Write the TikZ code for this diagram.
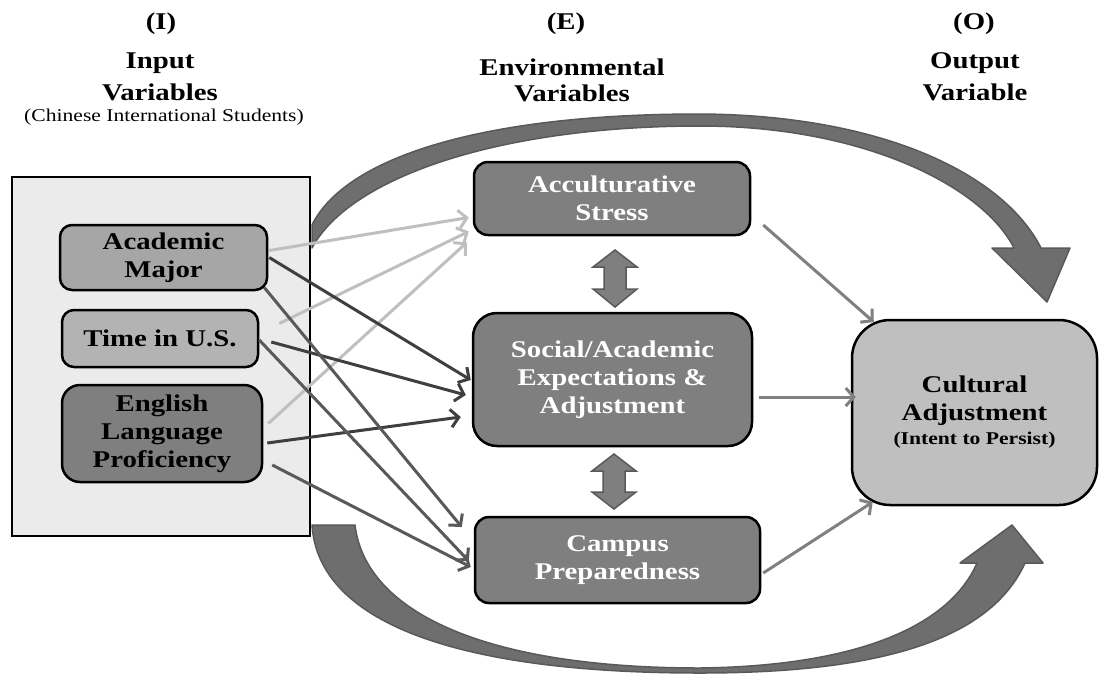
\documentclass[tikz,border=0pt]{standalone}
\usepackage{fontspec}
\setmainfont{Liberation Serif}[FakeStretch=1.2]
\usetikzlibrary{arrows.meta,calc}
\definecolor{panelgray}{HTML}{EBEBEB}
\definecolor{boxmid}{HTML}{A6A6A6}
\definecolor{boxtime}{HTML}{B3B3B3}
\definecolor{boxdark}{HTML}{7F7F7F}
\definecolor{boxlight}{HTML}{BFBFBF}
\definecolor{arrlight}{HTML}{BFBFBF}
\definecolor{arrdark}{HTML}{3F3F3F}
\definecolor{arrmed}{HTML}{595959}
\definecolor{arrright}{HTML}{808080}
\definecolor{bandfill}{HTML}{6E6E6E}
\definecolor{bandedge}{HTML}{595959}
\tikzset{
  hdr/.style={font=\fontsize{24}{30}\selectfont\bfseries, align=center, inner sep=0pt},
  sub/.style={font=\fontsize{18}{22}\selectfont, align=center, inner sep=0pt},
  inbox/.style={draw=black, line width=2.5pt, rounded corners=12pt, inner sep=0pt, align=center,
    font=\fontsize{24}{28}\selectfont\bfseries},
  envbox/.style={draw=black, line width=2.5pt, rounded corners=18pt, inner sep=0pt, align=center,
    fill=boxdark, text=white, font=\fontsize{24}{28}\selectfont\bfseries},
  conn/.style={line width=3pt, -{Straight Barb[length=8pt,width=18pt]}},
  band/.style={fill=bandfill, draw=bandedge, line width=1.5pt, line join=round},
  dbl/.style={fill=boxdark, draw=bandedge, line width=1.5pt, line join=miter}
}
\begin{document}
\begin{tikzpicture}[x=1pt,y=-1pt]
\useasboundingbox (0,0) rectangle (1099,675);

% headers
\node[hdr] (hI) at (161,24) {(I)};
\node[hdr, font=\fontsize{24}{32}\selectfont\bfseries] (hIn) at (160,77) {Input\\Variables};
\node[sub] (hCh) at (164,117) {(Chinese International Students)};
\node[hdr] (hE) at (566,24) {(E)};
\node[hdr, font=\fontsize{24}{26}\selectfont\bfseries] (hEn) at (572,80) {Environmental\\Variables};
\node[hdr] (hO) at (974,24) {(O)};
\node[hdr, font=\fontsize{24}{32}\selectfont\bfseries] (hOut) at (975,77) {Output\\Variable};

% big curved arrows
\path[band] (312,225) .. controls (345,158) and (480,114) .. (700,114)
  .. controls (880,115) and (1003,173) .. (1041,248) -- (1070,248) -- (1047,302) -- (992,248) -- (1014,248)
  .. controls (983,187) and (865,126) .. (700,126)
  .. controls (500,126) and (350,177) .. (312,248) -- cycle;
\path[band] (312,525) -- (355,525) .. controls (365,610) and (480,668) .. (700,668)
  .. controls (860,666) and (950,625) .. (977,563) -- (960,563) -- (1012,525) -- (1043,563) -- (1025,563)
  .. controls (990,640) and (880,673) .. (700,673)
  .. controls (450,673) and (318,620) .. (312,525) -- cycle;

% left panel
\node[draw=black, line width=2.5pt, fill=panelgray, minimum width=298pt, minimum height=359pt, inner sep=0pt] (panel) at (161,356.5) {};

% input boxes
\node[inbox, fill=boxmid, minimum width=207pt, minimum height=65pt] (am) at (163.5,257.5) {Academic\\Major};
\node[inbox, fill=boxtime, minimum width=196pt, minimum height=57pt] (tus) at (160,338.5) {Time in U.S.};
\node[inbox, fill=boxdark, minimum width=200pt, minimum height=97pt, rounded corners=18pt] (elp) at (162,433.5) {English\\Language\\Proficiency};

% environmental boxes
\node[envbox, minimum width=276pt, minimum height=73pt, rounded corners=14pt] (as) at (612,198.5) {Acculturative\\Stress};
\node[envbox, minimum width=279pt, minimum height=133pt, rounded corners=24pt] (sa) at (612.5,379.5) {Social/Academic\\Expectations \&\\Adjustment};
\node[envbox, minimum width=285pt, minimum height=86pt, rounded corners=14pt] (cp) at (617.5,560) {Campus\\Preparedness};

% output box
\node[draw=black, line width=2.5pt, fill=boxlight, rounded corners=38pt, minimum width=245pt, minimum height=185pt, inner sep=0pt, align=center,
  font=\fontsize{24}{28}\selectfont\bfseries] (ca) at (974.5,412.5)
  {Cultural\\Adjustment\\[-4pt]\fontsize{18}{22}\selectfont (Intent to Persist)};

% double block arrows
\path[dbl] (615,250) -- (637,267) -- (626,267) -- (626,289) -- (637,289) -- (615,307) -- (593,289) -- (604,289) -- (604,267) -- (593,267) -- cycle;
\path[dbl] (614,454) -- (636,471) -- (625,471) -- (625,492) -- (636,492) -- (614,509) -- (592,492) -- (603,492) -- (603,471) -- (592,471) -- cycle;

% light arrows to Acculturative Stress
\draw[conn, arrlight] ([xshift=1pt,yshift=7pt]am.east) -- ([xshift=-4pt,yshift=-19pt]as.west);
\draw[conn, arrlight] ([xshift=20pt,yshift=15pt]tus.east) -- ([xshift=-4pt,yshift=-33pt]as.west);
\draw[conn, arrlight] ([xshift=5pt,yshift=10pt]elp.east) -- ([xshift=-6pt,yshift=-44pt]as.west);

% dark arrows to Social/Academic
\draw[conn, arrdark] ([xshift=1pt,yshift=0pt]am.east) -- ([xshift=-1pt,yshift=-0.5pt]sa.west);
\draw[conn, arrdark] ([xshift=12pt,yshift=-3.5pt]tus.east) -- ([xshift=-6pt,yshift=-15.5pt]sa.west);
\draw[conn, arrdark] ([xshift=4pt,yshift=-9.5pt]elp.east) -- ([xshift=-11pt,yshift=-37.5pt]sa.west);

% medium arrows to Campus Preparedness
\draw[conn, arrmed] ([xshift=-4pt,yshift=-30pt]am.east) -- ([xshift=-12pt,yshift=33pt]cp.west);
\draw[conn, arrmed] ([xshift=0pt,yshift=-1.5pt]tus.east) -- ([xshift=-5pt,yshift=-1pt]cp.west);
\draw[conn, arrmed] ([xshift=9pt,yshift=-31.5pt]elp.east) -- ([xshift=-3pt,yshift=-7pt]cp.west);

% arrows to Cultural Adjustment
\draw[conn, arrright] ([xshift=12pt,yshift=-26.5pt]as.east) -- ([xshift=23pt,yshift=90.5pt]ca.west);
\draw[conn, arrright] ([xshift=6pt,yshift=-17.5pt]sa.east) -- ([xshift=5pt,yshift=15.5pt]ca.west);
\draw[conn, arrright] ([xshift=2pt,yshift=-13pt]cp.east) -- ([xshift=22pt,yshift=-89.5pt]ca.west);
\end{tikzpicture}
\end{document}
